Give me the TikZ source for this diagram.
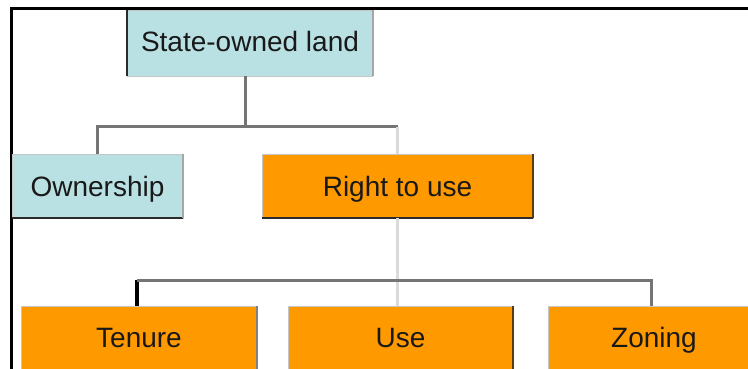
\documentclass[tikz,border=0pt]{standalone}
\usepackage{fontspec}
\setmainfont{Liberation Sans}
\definecolor{boxblue}{HTML}{B9E0E3}
\definecolor{boxorange}{HTML}{FF9900}
\definecolor{conngray}{HTML}{757575}
\definecolor{connlight}{HTML}{DADADA}
\definecolor{edgedark}{HTML}{2B2B2B}
\definecolor{edgebrown}{HTML}{5A3A10}
\tikzset{
  box/.style={rectangle, inner sep=0pt, draw=gray!45, line width=0.8pt,
    font=\fontsize{28}{32}\selectfont, text=black!90,
    text height=20pt, text depth=0pt},
  bluebox/.style={box, fill=boxblue},
  orangebox/.style={box, fill=boxorange},
  conn/.style={draw=conngray, line width=3pt},
  connl/.style={draw=connlight, line width=2.5pt},
  connk/.style={draw=black, line width=4pt},
}
\begin{document}
\begin{tikzpicture}[x=1pt,y=-1pt]
\useasboundingbox (0,0) rectangle (748,369);
\begin{scope}
\clip (0,0) rectangle (748,369);
% frame
\draw[line width=3pt] (11,372) -- (11,8.5) -- (752,8.5);
% nodes
\node[bluebox, minimum width=245pt, minimum height=66pt, text depth=3pt] (top) at (250,43) {State-owned land};
\node[bluebox, minimum width=171pt, minimum height=64pt] (own) at (97.5,186) {Ownership};
\node[orangebox, minimum width=271pt, minimum height=64pt] (rtu) at (397.5,186) {Right to use};
\node[orangebox, minimum width=236pt, minimum height=66pt, text depth=3pt] (ten) at (139,339) {Tenure};
\node[orangebox, minimum width=225pt, minimum height=66pt, text depth=3pt] (use) at (400.5,339) {Use};
\node[orangebox, minimum width=212pt, minimum height=66pt, text depth=3pt] (zon) at (654,339) {Zoning};
% box edges (shadow)
\draw[edgedark, line width=1.5pt] (top.north west) -- (top.south west);
\draw[gray!70, line width=1.5pt] (top.north east) -- (top.south east);
\draw[edgedark, line width=2pt] (own.south west) -- (own.south east);
\draw[gray!70, line width=2pt] (own.north east) -- (own.south east);
\draw[edgedark, line width=2pt] (rtu.south west) -- (rtu.south east);
\draw[edgebrown, line width=2pt] (rtu.north east) -- (rtu.south east);
\draw[gray, line width=2pt] (ten.north east) -- (ten.south east);
\draw[edgebrown, line width=2pt] (use.north east) -- (use.south east);
% junctions
\coordinate (j1) at (245,127);
\coordinate (j2) at (397,280);
\coordinate (cten) at (137,280);
\coordinate (czon) at (651,280);
% connectors
\draw[conn] (j1 |- top.south) -- (j1);
\draw[conn] (own.north) |- (rtu.north |- j1);
\draw[connl] (rtu.north |- j1) -- (rtu.north);
\draw[connl] (rtu.south) -- (rtu.south |- use.north);
\draw[connk] (cten |- ten.north) -- (cten);
\draw[conn] (cten) -- (czon) -- (czon |- zon.north);
\end{scope}
\end{tikzpicture}
\end{document}
